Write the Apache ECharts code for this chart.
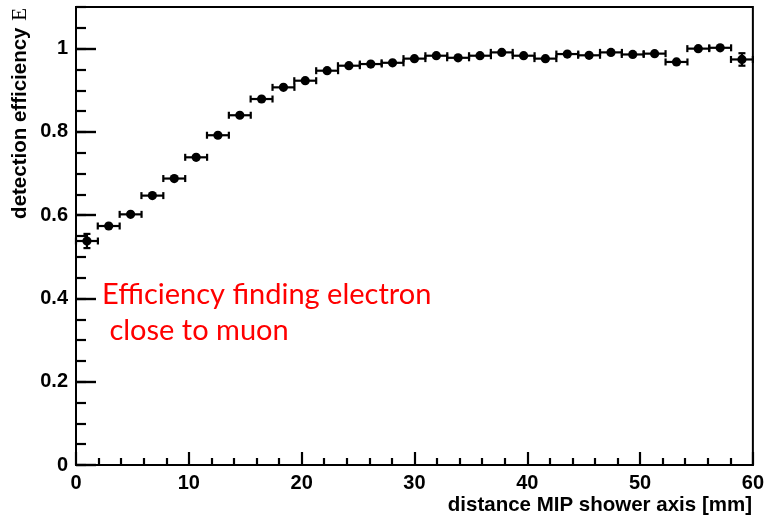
<!DOCTYPE html>
<html>
<head>
<meta charset="utf-8">
<title>Detection efficiency vs distance</title>
<script src="https://cdn.jsdelivr.net/npm/echarts@6/dist/echarts.min.js"></script>
<style>
  html, body { margin: 0; padding: 0; background: #ffffff; }
  #chart { width: 767px; height: 515px; }
</style>
</head>
<body>
<div id="chart"></div>
<script>
// Bin centres along the distance to the MIP shower axis [mm]
const distance = [0.97, 2.90, 4.84, 6.77, 8.71, 10.65, 12.58, 14.52, 16.45, 18.39,
  20.32, 22.26, 24.19, 26.13, 28.06, 30.00, 31.94, 33.87, 35.81, 37.74,
  39.68, 41.61, 43.55, 45.48, 47.42, 49.35, 51.29, 53.23, 55.16, 57.10, 59.03];
// Half bin width [mm]
const distanceErr = [0.97, 0.97, 0.97, 0.97, 0.97, 0.97, 0.97, 0.97, 0.97, 0.97,
  0.97, 0.97, 0.97, 0.97, 0.97, 0.97, 0.97, 0.97, 0.97, 0.97,
  0.97, 0.97, 0.97, 0.97, 0.97, 0.97, 0.97, 0.97, 0.97, 0.97, 0.97];
// Detection efficiency per bin
const efficiency = [0.538, 0.574, 0.602, 0.647, 0.688, 0.739, 0.792, 0.840, 0.879, 0.907,
  0.923, 0.947, 0.959, 0.963, 0.966, 0.976, 0.983, 0.978, 0.983, 0.991,
  0.983, 0.976, 0.987, 0.984, 0.991, 0.986, 0.988, 0.968, 1.000, 1.002, 0.974];
// Statistical uncertainty of the efficiency
const efficiencyErr = [0.017, 0.005, 0.004, 0.004, 0.004, 0.004, 0.004, 0.004, 0.004, 0.004,
  0.004, 0.004, 0.004, 0.004, 0.004, 0.004, 0.004, 0.004, 0.004, 0.004,
  0.004, 0.004, 0.004, 0.004, 0.004, 0.004, 0.004, 0.004, 0.004, 0.004, 0.015];

const xTitle = 'distance MIP shower axis [mm]';
const yTitle = 'detection efficiency';
const yTitleSymbol = 'E';
const noteLines = ['Efficiency finding electron', ' close to muon'];

const points = distance.map((d, i) => [d, efficiency[i], distanceErr[i], efficiencyErr[i]]);

const labelFont = {
  color: '#000',
  fontFamily: '"Liberation Sans", Arial, sans-serif',
  fontWeight: 'bold',
  fontSize: 20
};

const chart = echarts.init(document.getElementById('chart'), null, { renderer: 'canvas' });

// One marker with horizontal (bin width) and vertical (uncertainty) error bars
function renderPoint(params, api) {
  const x = api.value(0), y = api.value(1), ex = api.value(2), ey = api.value(3);
  const c = api.coord([x, y]);
  const l = api.coord([x - ex, y]);
  const r = api.coord([x + ex, y]);
  const t = api.coord([x, y + ey]);
  const b = api.coord([x, y - ey]);
  const st = { stroke: '#000', lineWidth: 2.2 };
  const cap = 3.5;
  const children = [
    { type: 'line', shape: { x1: l[0], y1: c[1], x2: r[0], y2: c[1] }, style: st },
    { type: 'line', shape: { x1: l[0], y1: c[1] - cap, x2: l[0], y2: c[1] + cap }, style: st },
    { type: 'line', shape: { x1: r[0], y1: c[1] - cap, x2: r[0], y2: c[1] + cap }, style: st }
  ];
  if (b[1] - t[1] > 9) {
    children.push(
      { type: 'line', shape: { x1: c[0], y1: t[1], x2: c[0], y2: b[1] }, style: st },
      { type: 'line', shape: { x1: c[0] - cap, y1: t[1], x2: c[0] + cap, y2: t[1] }, style: st },
      { type: 'line', shape: { x1: c[0] - cap, y1: b[1], x2: c[0] + cap, y2: b[1] }, style: st }
    );
  }
  children.push({ type: 'circle', shape: { cx: c[0], cy: c[1], r: 4.6 }, style: { fill: '#000' } });
  return { type: 'group', children };
}

chart.setOption({
  backgroundColor: '#ffffff',
  animation: false,
  grid: {
    left: 76, right: 12, top: 7, bottom: 50,
    show: true, borderColor: '#000', borderWidth: 2, backgroundColor: 'transparent'
  },
  xAxis: [{
    type: 'value', min: 0, max: 60, interval: 10, position: 'bottom',
    axisLine: { show: true, lineStyle: { color: '#000', width: 2 } },
    axisTick: { show: true, inside: true, length: 13, lineStyle: { color: '#000', width: 2.2 } },
    minorTick: { show: true, splitNumber: 5, length: 7, lineStyle: { color: '#000', width: 2.2 } },
    axisLabel: Object.assign({ margin: 8 }, labelFont),
    splitLine: { show: false }
  }],
  yAxis: [{
    type: 'value', min: 0, max: 1.1, interval: 0.2, position: 'left',
    axisLine: { show: true, lineStyle: { color: '#000', width: 2 } },
    axisTick: { show: true, inside: true, length: 20, lineStyle: { color: '#000', width: 2.4 } },
    axisLabel: Object.assign({ margin: 8, showMaxLabel: false,
      formatter: v => (Math.abs(v - Math.round(v)) < 1e-9 ? String(Math.round(v)) : String(+v.toFixed(1))) }, labelFont),
    splitLine: { show: false }
  }, {
    type: 'value', min: 0, max: 1.1, interval: 0.05, position: 'left',
    axisLine: { show: false },
    axisTick: { show: true, inside: true, length: 10, lineStyle: { color: '#000', width: 2.2 } },
    axisLabel: { show: false },
    splitLine: { show: false }
  }],
  series: [{
    type: 'custom',
    xAxisIndex: 0, yAxisIndex: 0,
    renderItem: renderPoint,
    encode: { x: 0, y: 1 },
    data: points,
    clip: false,
    z: 5
  }],
  graphic: [
    {
      type: 'text', x: 20, y: 8, rotation: Math.PI / 2,
      style: {
        text: '{a|' + yTitle + '}  {b|' + yTitleSymbol + '}',
        align: 'right', verticalAlign: 'middle',
        rich: {
          a: { fontFamily: '"Liberation Sans", Arial, sans-serif', fontWeight: 'bold', fontSize: 20.5, fill: '#000' },
          b: { fontFamily: '"Liberation Serif", serif', fontWeight: 'normal', fontSize: 21, fill: '#000' }
        }
      }
    },
    {
      type: 'text', x: 752, y: 505,
      style: {
        text: xTitle, align: 'right', verticalAlign: 'middle',
        font: 'bold 20.5px "Liberation Sans", Arial, sans-serif', fill: '#000'
      }
    },
    {
      type: 'text', x: 102, y: 295,
      style: { text: noteLines[0], align: 'left', verticalAlign: 'middle',
        font: '29px Lato, "Open Sans", sans-serif', fill: '#ff0000' }
    },
    {
      type: 'text', x: 102, y: 331,
      style: { text: noteLines[1], align: 'left', verticalAlign: 'middle',
        font: '29px Lato, "Open Sans", sans-serif', fill: '#ff0000' }
    }
  ]
});
</script>
</body>
</html>
